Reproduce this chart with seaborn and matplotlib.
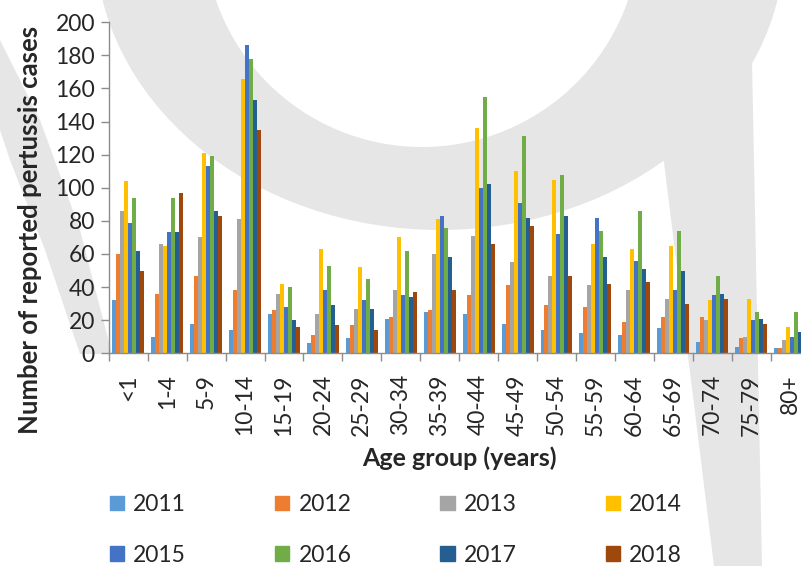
import matplotlib
matplotlib.use("Agg")
import matplotlib.pyplot as plt
from matplotlib.patches import Ellipse, Polygon
import numpy as np
import pandas as pd
import seaborn as sns

# age groups and reported cases per year
ages = ['<1', '1-4', '5-9', '10-14', '15-19', '20-24', '25-29', '30-34', '35-39',
        '40-44', '45-49', '50-54', '55-59', '60-64', '65-69', '70-74', '75-79', '80+']
y2011 = [32, 10, 18, 14, 24, 6, 9, 21, 25, 24, 18, 14, 12, 11, 15, 7, 4, 3]
y2012 = [60, 36, 47, 38, 26, 11, 17, 22, 26, 35, 41, 29, 28, 19, 22, 22, 9, 3]
y2013 = [86, 66, 70, 81, 36, 24, 27, 38, 60, 71, 55, 47, 41, 38, 33, 20, 10, 8]
y2014 = [104, 65, 121, 166, 42, 63, 52, 70, 81, 136, 110, 105, 66, 63, 65, 32, 33, 16]
y2015 = [79, 73, 113, 186, 28, 38, 32, 35, 83, 100, 91, 72, 82, 56, 38, 35, 20, 10]
y2016 = [94, 94, 119, 178, 40, 53, 45, 62, 76, 155, 131, 108, 74, 86, 74, 47, 25, 25]
y2017 = [62, 73, 86, 153, 20, 29, 27, 34, 58, 102, 82, 83, 58, 51, 50, 36, 21, 13]
y2018 = [50, 97, 83, 135, 16, 17, 14, 37, 38, 66, 77, 47, 42, 43, 30, 33, 18, 9]
years = ['2011', '2012', '2013', '2014', '2015', '2016', '2017', '2018']
colors = ['#5B9BD5', '#ED7D31', '#A5A5A5', '#FFC000',
          '#4472C4', '#70AD47', '#255E91', '#9E480E']

series = [y2011, y2012, y2013, y2014, y2015, y2016, y2017, y2018]
df = pd.DataFrame({
    'age': ages * len(years),
    'year': np.repeat(years, len(ages)),
    'cases': np.concatenate(series),
})

sns.set_theme(style='white')
plt.rcParams['font.family'] = ['Lato', 'DejaVu Sans']

W, H = 801, 566
fig = plt.figure(figsize=(W / 100, H / 100), dpi=100)

# watermark behind the chart
bg = fig.add_axes([0, 0, 1, 1], zorder=0)
bg.set_xlim(0, W)
bg.set_ylim(H, 0)
bg.axis('off')
wm = '#e6e6e6'
bg.add_patch(Polygon([(0, 40), (40, 120), (80, 230), (112, 354), (80, 354),
                      (45, 250), (10, 160), (0, 130)], color=wm, lw=0))
bg.add_patch(Ellipse((440, -60), 690, 580, color=wm, lw=0))
bg.add_patch(Ellipse((422, -71), 436, 436, color='white', lw=0))
bg.add_patch(Polygon([(660, 130), (752, 60), (762, 566), (714, 566)], color=wm, lw=0))

# main chart
x0, x1 = 108.8, 809.5
y0, y1 = 353.3, 22.3
ax = fig.add_axes([x0 / W, 1 - y0 / H, (x1 - x0) / W, (y0 - y1) / H], zorder=1)
ax.patch.set_alpha(0)

sns.barplot(data=df, x='age', y='cases', hue='year', order=ages, hue_order=years,
            palette=colors, width=0.82, saturation=1, linewidth=0, ax=ax,
            legend=False)

fs = 16.5
ax.set_xlim(-0.5, len(ages) - 0.5)
ax.set_ylim(0, 200)
ax.set_yticks(range(0, 201, 20))
ax.tick_params(axis='y', labelsize=fs, length=6, width=1, color='#8c8c8c',
               pad=4, left=True)
ax.set_xticks(range(len(ages)))
ax.set_xticklabels(ages, rotation=90, va='top', ha='center')
ax.set_xticks(np.arange(-0.5, len(ages), 1), minor=True)
ax.tick_params(axis='x', which='major', length=0, labelsize=fs, pad=15)
ax.tick_params(axis='x', which='minor', length=6, width=1, color='#8c8c8c',
               bottom=True)

for s in ['top', 'right']:
    ax.spines[s].set_visible(False)
for s in ['left', 'bottom']:
    ax.spines[s].set_color('#8c8c8c')
    ax.spines[s].set_linewidth(1)

ax.set_xlabel('Age group (years)', fontsize=18, fontweight='bold')
ax.xaxis.set_label_coords(0.5, (y0 - 458) / (y0 - y1))
ax.xaxis.label.set_va('center')
ax.set_ylabel('Number of reported pertussis cases', fontsize=18.5, fontweight='bold')
ax.yaxis.set_label_coords((30 - x0) / (x1 - x0), (y0 - 230) / (y0 - y1))
ax.yaxis.label.set_va('center')

# legend filled row by row like the original (2011-2014 on top)
handles = [plt.Rectangle((0, 0), 1, 1, color=c) for c in colors]
order = [0, 4, 1, 5, 2, 6, 3, 7]
fig.legend([handles[i] for i in order], [years[i] for i in order],
           loc='upper left', ncol=4,
           bbox_to_anchor=(110 / W, 1 - 494 / H), frameon=False,
           fontsize=fs, handlelength=0.62, handleheight=0.62,
           handletextpad=0.4, columnspacing=3.88, labelspacing=1.3,
           borderpad=0, borderaxespad=0)

fig.savefig('out.png', dpi=100)
